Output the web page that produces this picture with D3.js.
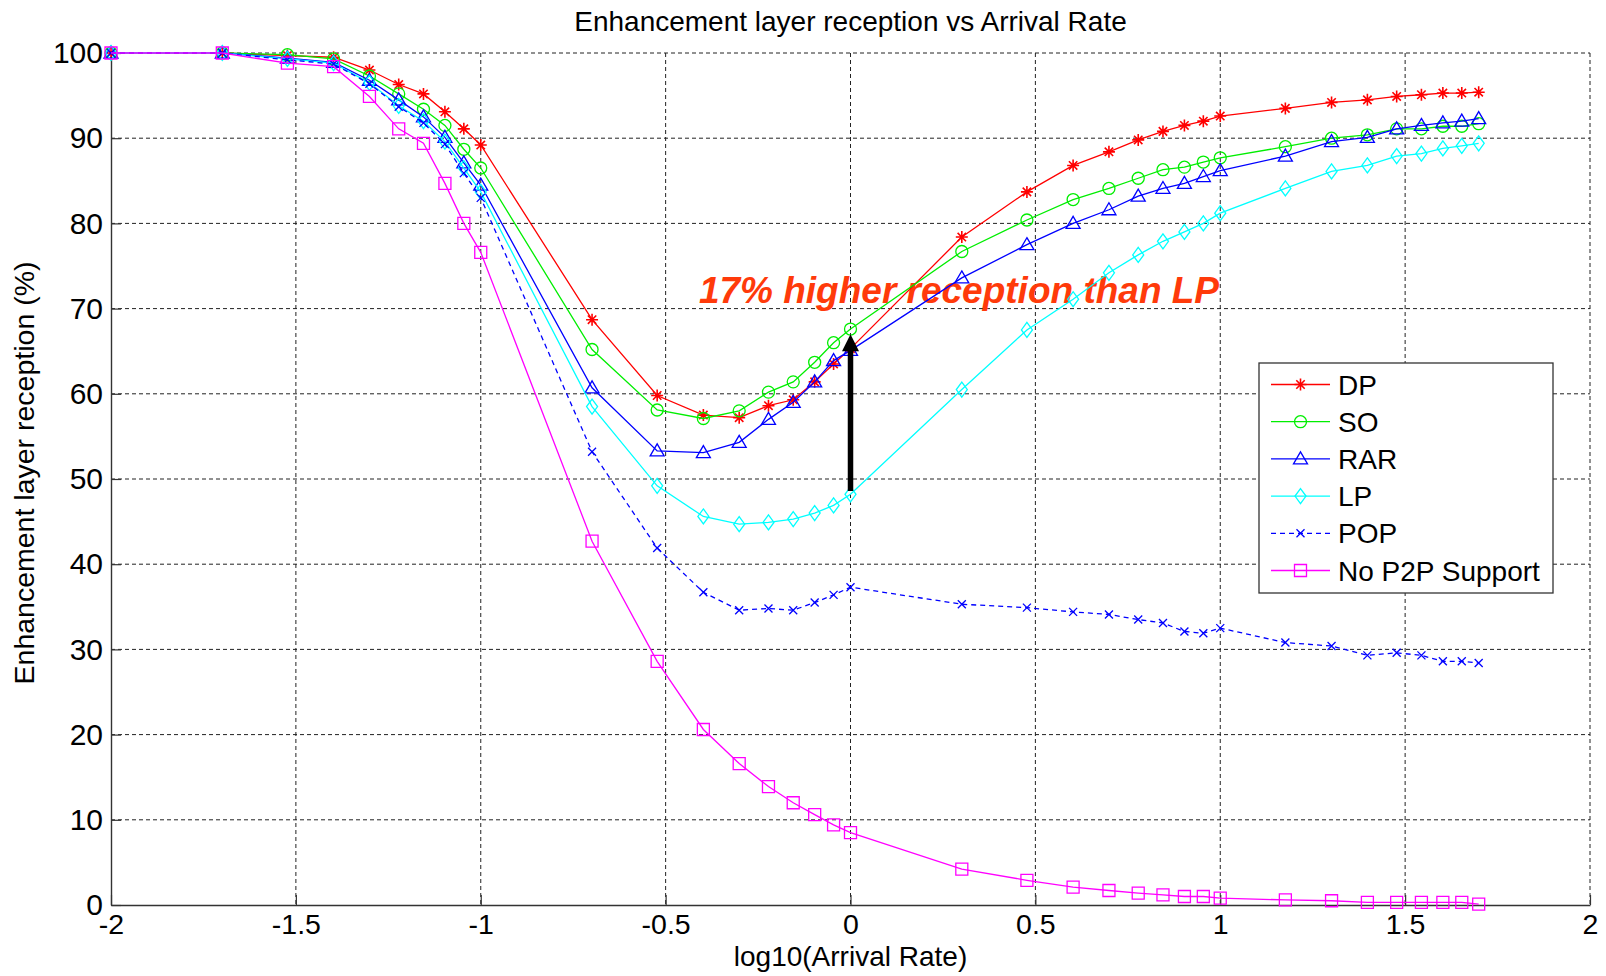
<!DOCTYPE html>
<html lang="en">
<head>
  <meta charset="UTF-8">
  <title>Enhancement layer reception vs Arrival Rate</title>
  <style>
    * { margin: 0; padding: 0; box-sizing: border-box; }
    body { background: #fff; font-family: Arial, "Liberation Sans", Helvetica, sans-serif; }
    svg { display: block; }
  </style>
</head>
<body>
  <div id="chart"></div>

  <script src="https://d3js.org/d3.v7.min.js"></script>
  <script>
// arrival rates used in the simulation (x axis is log10 of these)
var arrivalRates = [0.01, 0.02, 0.03, 0.04, 0.05, 0.06, 0.07, 0.08, 0.09, 0.1,
  0.2, 0.3, 0.4, 0.5, 0.6, 0.7, 0.8, 0.9, 1,
  2, 3, 4, 5, 6, 7, 8, 9, 10,
  15, 20, 25, 30, 35, 40, 45, 50];

var dpValues = [100, 100, 99.7, 99.5, 98.0, 96.3, 95.2, 93.1, 91.1, 89.2,
  68.7, 59.8, 57.5, 57.2, 58.6, 59.3, 61.4, 63.5, 65.3,
  78.4, 83.7, 86.8, 88.4, 89.8, 90.8, 91.5, 92.0, 92.6,
  93.5, 94.2, 94.5, 94.9, 95.1, 95.3, 95.3, 95.4];

var soValues = [100, 100, 99.8, 99.3, 97.3, 95.2, 93.4, 91.5, 88.7, 86.5,
  65.2, 58.1, 57.1, 58.0, 60.2, 61.4, 63.7, 66.0, 67.6,
  76.7, 80.4, 82.8, 84.1, 85.3, 86.3, 86.6, 87.2, 87.7,
  89.0, 90.0, 90.4, 91.1, 91.1, 91.4, 91.4, 91.7];

var rarValues = [100, 100, 99.4, 98.9, 96.8, 94.5, 92.5, 90.1, 87.1, 84.5,
  60.7, 53.3, 53.1, 54.3, 57.0, 59.0, 61.4, 63.9, 65.1,
  73.6, 77.5, 80.0, 81.6, 83.2, 84.1, 84.7, 85.5, 86.2,
  87.9, 89.6, 90.1, 91.1, 91.5, 91.8, 92.0, 92.3];

var lpValues = [100, 100, 99.3, 98.8, 96.5, 93.8, 92.0, 89.6, 86.5, 83.7,
  58.5, 49.2, 45.6, 44.7, 44.9, 45.3, 46.0, 46.9, 48.2,
  60.5, 67.5, 71.1, 74.2, 76.3, 77.9, 79.0, 80.0, 81.2,
  84.1, 86.1, 86.8, 87.9, 88.2, 88.8, 89.1, 89.4];

var popValues = [100, 100, 99.2, 98.7, 96.4, 93.7, 91.8, 89.3, 85.9, 83.0,
  53.2, 41.9, 36.7, 34.6, 34.8, 34.6, 35.5, 36.4, 37.3,
  35.3, 34.9, 34.4, 34.1, 33.5, 33.1, 32.1, 31.9, 32.5,
  30.8, 30.4, 29.3, 29.6, 29.3, 28.6, 28.6, 28.4];

var noP2PValues = [100, 100, 98.8, 98.4, 94.9, 91.1, 89.4, 84.7, 80.0, 76.6,
  42.7, 28.6, 20.6, 16.6, 13.9, 12.0, 10.6, 9.4, 8.5,
  4.2, 2.9, 2.1, 1.7, 1.4, 1.2, 1.0, 1.0, 0.8,
  0.6, 0.5, 0.3, 0.3, 0.3, 0.3, 0.3, 0.1];

var seriesNames = ["DP", "SO", "RAR", "LP", "POP", "No P2P Support"];
var xTicks = [-2, -1.5, -1, -0.5, 0, 0.5, 1, 1.5, 2];
var yTicks = [0, 10, 20, 30, 40, 50, 60, 70, 80, 90, 100];

// annotation: LP at rate 1 vs SO at rate 1
var arrowX = 0, arrowFrom = 48.6, arrowTo = 67.0;
var noteText = "17% higher reception than LP";

var W = 1606, H = 976;
var margin = {top: 53, right: 16, bottom: 71, left: 111};
var width = W - margin.left - margin.right;
var height = H - margin.top - margin.bottom;

var series = [
  {name: seriesNames[0], values: dpValues,    color: "#ff0000", marker: "star",     dash: null},
  {name: seriesNames[1], values: soValues,    color: "#00ee00", marker: "circle",   dash: null},
  {name: seriesNames[2], values: rarValues,   color: "#0000ff", marker: "triangle", dash: null},
  {name: seriesNames[3], values: lpValues,    color: "#00ffff", marker: "diamond",  dash: null},
  {name: seriesNames[4], values: popValues,   color: "#0000ff", marker: "x",        dash: "5,4"},
  {name: seriesNames[5], values: noP2PValues, color: "#ff00ff", marker: "square",   dash: null}
];

function markerPath(type) {
  if (type == "star") return "M-6,0H6M0,-6V6M-4.2,-4.2L4.2,4.2M-4.2,4.2L4.2,-4.2";
  if (type == "circle") return "M6,0A6,6 0 1,1 -6,0A6,6 0 1,1 6,0Z";
  if (type == "triangle") return "M0,-7L7,5H-7Z";
  if (type == "diamond") return "M0,-7.5L5.5,0L0,7.5L-5.5,0Z";
  if (type == "x") return "M-4,-4L4,4M-4,4L4,-4";
  return "M-6,-6H6V6H-6Z";
}

var svg = d3.select("#chart")
  .append("svg")
    .attr("width", W)
    .attr("height", H);

svg.append("rect").attr("width", W).attr("height", H).attr("fill", "#fff");

var g = svg.append("g")
  .attr("transform", "translate(" + margin.left + "," + margin.top + ")");

var x = d3.scaleLinear().domain([-2, 2]).range([0, width]);
var y = d3.scaleLinear().domain([0, 100]).range([height, 0]);

// dashed grid
var grid = g.append("g").attr("stroke", "#222").attr("stroke-width", 1).attr("stroke-dasharray", "4,3");
grid.selectAll(".gx")
  .data(xTicks.filter(function(d) { return d > -2; }))
  .enter().append("line")
    .attr("x1", function(d) { return x(d); })
    .attr("x2", function(d) { return x(d); })
    .attr("y1", 0).attr("y2", height);
grid.selectAll(".gy")
  .data(yTicks.filter(function(d) { return d > 0; }))
  .enter().append("line")
    .attr("x1", 0).attr("x2", width)
    .attr("y1", function(d) { return y(d); })
    .attr("y2", function(d) { return y(d); });

// axes, ticks pointing inward
var xAxis = g.append("g")
  .attr("transform", "translate(0," + height + ")")
  .call(d3.axisBottom(x).tickValues(xTicks).tickSize(-10).tickSizeOuter(0).tickPadding(9)
    .tickFormat(function(d) { return String(d); }));
var yAxis = g.append("g")
  .call(d3.axisLeft(y).tickValues(yTicks).tickSize(-10).tickSizeOuter(0).tickPadding(8));

[xAxis, yAxis].forEach(function(a) {
  a.select(".domain").attr("stroke", "#333").attr("stroke-width", 1.4);
  a.selectAll(".tick line").attr("stroke", "#333").attr("stroke-width", 1.2);
  a.selectAll("text")
    .attr("fill", "#000")
    .style("font-family", "Arial, 'Liberation Sans', sans-serif");
});
xAxis.selectAll("text").style("font-size", "28.5px");
yAxis.selectAll("text").style("font-size", "30px");

// title and axis labels
svg.append("text")
  .attr("x", margin.left + width / 2)
  .attr("y", 31)
  .attr("text-anchor", "middle")
  .style("font-size", "28px")
  .text("Enhancement layer reception vs Arrival Rate");

svg.append("text")
  .attr("x", margin.left + width / 2)
  .attr("y", 966)
  .attr("text-anchor", "middle")
  .style("font-size", "28px")
  .text("log10(Arrival Rate)");

svg.append("text")
  .attr("transform", "translate(34," + (margin.top + height / 2 - 6) + ")rotate(-90)")
  .attr("text-anchor", "middle")
  .style("font-size", "28.5px")
  .text("Enhancement layer reception (%)");

// annotation text (lines are drawn over it)
g.append("text")
  .attr("x", x(-0.41))
  .attr("y", y(70.7))
  .attr("fill", "#ff3a0a")
  .style("font-size", "37px")
  .style("font-weight", "bold")
  .style("font-style", "italic")
  .text(noteText);

// series lines and markers
var line = d3.line()
  .x(function(d) { return x(d[0]); })
  .y(function(d) { return y(d[1]); });

series.forEach(function(s) {
  var pts = arrivalRates.map(function(r, i) { return [Math.log10(r), s.values[i]]; });
  var sg = g.append("g");
  sg.append("path")
    .datum(pts)
    .attr("d", line)
    .attr("fill", "none")
    .attr("stroke", s.color)
    .attr("stroke-width", 1.3)
    .attr("stroke-dasharray", s.dash);
  sg.selectAll(".m")
    .data(pts)
    .enter().append("path")
      .attr("transform", function(d) { return "translate(" + x(d[0]) + "," + y(d[1]) + ")"; })
      .attr("d", markerPath(s.marker))
      .attr("fill", "none")
      .attr("stroke", s.color)
      .attr("stroke-width", s.marker == "star" ? 1.6 : 1.3);
});

// black arrow from LP up to SO at log10 rate 0
var ax = x(arrowX), tipY = y(arrowTo), baseY = y(arrowFrom);
g.append("line")
  .attr("x1", ax).attr("x2", ax)
  .attr("y1", baseY).attr("y2", tipY + 14)
  .attr("stroke", "#000")
  .attr("stroke-width", 5.5);
g.append("path")
  .attr("d", "M" + ax + "," + tipY + "L" + (ax + 8.5) + "," + (tipY + 17) + "L" + (ax - 8.5) + "," + (tipY + 17) + "Z")
  .attr("fill", "#000");

// legend
var lg = svg.append("g").attr("transform", "translate(1259,363)");
lg.append("rect")
  .attr("width", 294).attr("height", 230)
  .attr("fill", "#fff")
  .attr("stroke", "#333")
  .attr("stroke-width", 1.3);

var rows = lg.selectAll(".row")
  .data(series)
  .enter().append("g")
    .attr("transform", function(d, i) { return "translate(0," + (21.5 + i * 37.2) + ")"; });
rows.append("line")
  .attr("x1", 12).attr("x2", 71)
  .attr("stroke", function(d) { return d.color; })
  .attr("stroke-width", 1.3)
  .attr("stroke-dasharray", function(d) { return d.dash; });
rows.append("path")
  .attr("transform", "translate(41.5,0)")
  .attr("d", function(d) { return markerPath(d.marker); })
  .attr("fill", "none")
  .attr("stroke", function(d) { return d.color; })
  .attr("stroke-width", function(d) { return d.marker == "star" ? 1.6 : 1.3; });
rows.append("text")
  .attr("x", 79)
  .attr("y", 10)
  .style("font-size", "28px")
  .text(function(d) { return d.name; });
  </script>
</body>
</html>
